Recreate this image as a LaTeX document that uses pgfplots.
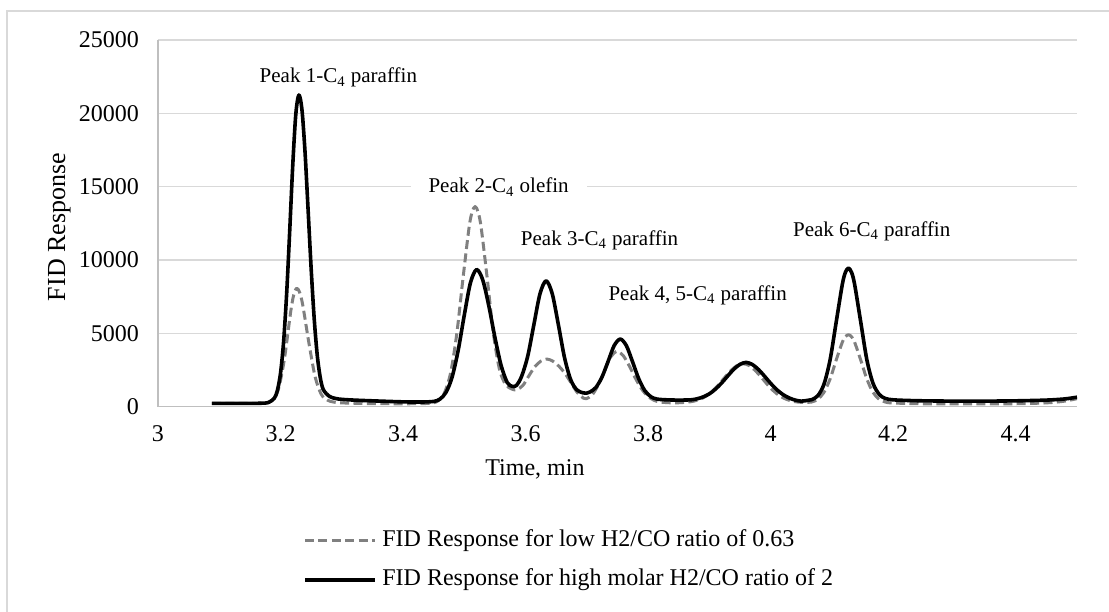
\documentclass[border=0pt]{standalone}
\usepackage{fontspec}
\setmainfont{Liberation Serif}
\usepackage{pgfplots}
\pgfplotsset{compat=1.18}
\definecolor{gridc}{HTML}{D9D9D9}
\definecolor{axc}{HTML}{BFBFBF}
\definecolor{lowc}{HTML}{808080}
\begin{document}
\begin{tikzpicture}
\begin{axis}[
  scale only axis, width=459.5pt, height=183.35pt,
  xmin=3, xmax=4.5, ymin=0, ymax=25000,
  scaled y ticks=false, scaled x ticks=false,
  xtick={3,3.2,3.4,3.6,3.8,4,4.2,4.4},
  xticklabels={3,3.2,3.4,3.6,3.8,4,4.2,4.4},
  ytick={0,5000,10000,15000,20000,25000},
  yticklabels={0,5000,10000,15000,20000,25000},
  major tick length=0pt,
  ymajorgrids, grid style={gridc, line width=0.75pt},
  axis x line*=bottom, axis y line*=left,
  axis line style={axc, line width=0.75pt, -},
  tick label style={font=\fontsize{12}{14}\selectfont},
  xticklabel style={yshift=-6pt},
  yticklabel style={xshift=-6pt},
  xlabel={Time, min}, ylabel={FID Response},
  xlabel style={font=\fontsize{12}{14}\selectfont, at={(axis description cs:0.4102,0)}, anchor=base, yshift=-34.6pt},
  ylabel style={font=\fontsize{13}{15}\selectfont, at={(axis description cs:-0.1072,0.49)}, anchor=center},
]
\coordinate (O) at (rel axis cs:0,0);
\addplot[lowc, line width=1.5pt, dash pattern=on 4.5pt off 2.2pt, smooth, tension=0.5, line join=round] coordinates {
(3.088,230)(3.10,230)(3.12,225)(3.14,225)(3.16,230)(3.1764,270)(3.1864,420)(3.1964,1170)
(3.2064,3270)(3.2164,6420)(3.2214,7600)(3.2264,8080)(3.2314,7770)(3.2364,6900)(3.2464,4330)
(3.2564,2050)(3.2664,850)(3.2764,450)(3.2864,320)(3.30,260)(3.35,210)(3.40,200)(3.43,210)
(3.4476,250)(3.4576,410)(3.4676,950)(3.4776,2310)(3.4876,4950)(3.4976,8670)(3.5076,12180)
(3.5126,13260)(3.5176,13645)(3.5226,13260)(3.5276,12180)(3.5376,8670)(3.5476,4950)(3.5576,2500)
(3.5676,1500)(3.5776,1200)(3.5856,1160)(3.5956,1450)(3.6046,2050)(3.6146,2700)(3.6246,3100)
(3.6346,3250)(3.6446,3100)(3.6546,2750)(3.6646,2250)(3.6746,1600)(3.6846,950)(3.6946,580)
(3.699,540)(3.709,825)(3.719,1517)(3.729,2485)(3.739,3395)(3.749,3770)(3.759,3500)(3.769,2800)
(3.779,1960)(3.789,1230)(3.799,730)(3.809,450)(3.819,320)(3.84,260)(3.855,280)(3.865,314)
(3.875,383)(3.885,514)(3.895,733)(3.905,1064)(3.915,1496)(3.925,1993)(3.935,2460)(3.945,2805)
(3.955,2930)(3.965,2805)(3.975,2460)(3.985,1993)(3.995,1496)(4.005,1064)(4.015,733)(4.025,514)
(4.035,383)(4.045,314)(4.055,290)(4.067,320)(4.077,510)(4.087,980)(4.097,1890)(4.107,3180)
(4.117,4400)(4.122,4770)(4.127,4905)(4.132,4770)(4.137,4400)(4.147,3180)(4.157,1890)(4.167,980)
(4.177,510)(4.187,320)(4.20,250)(4.25,200)(4.30,190)(4.35,190)(4.40,200)(4.45,260)(4.48,380)(4.50,550)
};
\addplot[black, line width=1.8pt, smooth, tension=0.5, line join=round] coordinates {
(3.088,230)(3.10,230)(3.12,225)(3.14,225)(3.16,230)(3.17,240)(3.18,282)(3.19,583)(3.195,1130)
(3.20,2290)(3.205,4420)(3.21,7720)(3.215,12000)(3.22,16500)(3.225,19970)(3.23,21250)(3.235,20230)
(3.24,17350)(3.245,13420)(3.25,9400)(3.255,5980)(3.26,3480)(3.265,1950)(3.27,1150)(3.28,700)
(3.29,560)(3.30,500)(3.32,450)(3.35,400)(3.40,330)(3.43,320)(3.45,360)(3.46,513)(3.47,970)
(3.48,2010)(3.49,3850)(3.50,6260)(3.51,8450)(3.52,9350)(3.53,8650)(3.54,6870)(3.55,4710)
(3.56,2820)(3.57,1650)(3.578,1390)(3.585,1450)(3.5935,2070)(3.6035,3450)(3.6135,5590)
(3.6235,7700)(3.6335,8580)(3.6435,7700)(3.6535,5590)(3.6635,3350)(3.6735,1850)(3.6835,1150)
(3.6935,950)(3.70,930)(3.705,1000)(3.7145,1300)(3.7245,2000)(3.7345,3070)(3.7445,4160)
(3.7545,4610)(3.7645,4160)(3.7745,3070)(3.7845,1920)(3.7945,1100)(3.8045,680)(3.8145,520)
(3.83,470)(3.85,450)(3.87,470)(3.88,540)(3.89,670)(3.90,880)(3.91,1200)(3.92,1620)(3.93,2100)
(3.94,2560)(3.95,2890)(3.96,3020)(3.97,2880)(3.98,2540)(3.99,2080)(4.00,1590)(4.01,1160)
(4.02,830)(4.03,600)(4.04,450)(4.05,380)(4.06,430)(4.067,480)(4.077,750)(4.087,1530)(4.097,3200)
(4.107,5780)(4.117,8350)(4.122,9160)(4.127,9450)(4.132,9160)(4.137,8350)(4.147,5780)(4.157,3200)
(4.167,1600)(4.177,850)(4.187,560)(4.20,470)(4.22,430)(4.25,400)(4.30,380)(4.35,380)(4.40,400)
(4.45,450)(4.48,530)(4.50,650)
};
\begin{scope}[every node/.style={anchor=base, font=\fontsize{10.5}{12}\selectfont, fill=white, inner xsep=1pt, inner ysep=1pt}]
\node at (axis cs:3.2944,22087) {Peak 1-C\textsubscript{4} paraffin};
\node[inner xsep=9pt] at (axis cs:3.556,14588) {Peak 2-C\textsubscript{4} olefin};
\node at (axis cs:3.7208,10976) {Peak 3-C\textsubscript{4} paraffin};
\node at (axis cs:3.8808,7274) {Peak 4, 5-C\textsubscript{4} paraffin};
\node at (axis cs:4.1649,11589) {Peak 6-C\textsubscript{4} paraffin};
\end{scope}
\end{axis}
% legend
\draw[lowc, line width=1.5pt, dash pattern=on 4.5pt off 2.2pt] ([shift={(73.5pt,-67pt)}]O) -- ([shift={(108.5pt,-67pt)}]O);
\node[anchor=west, inner sep=0pt, font=\fontsize{12}{14}\selectfont] at ([shift={(112pt,-67pt)}]O) {FID Response for low H2/CO ratio of 0.63};
\draw[black, line width=1.8pt] ([shift={(73.5pt,-86.5pt)}]O) -- ([shift={(108.5pt,-86.5pt)}]O);
\node[anchor=west, inner sep=0pt, font=\fontsize{12}{14}\selectfont] at ([shift={(112pt,-86.5pt)}]O) {FID Response for high molar H2/CO ratio of 2};
\draw[gridc, line width=0.75pt] ([shift={(-75.5pt,-110pt)}]O) rectangle ([shift={(477pt,197.85pt)}]O);
\pgfresetboundingbox
\path[use as bounding box] ([shift={(-79pt,-102.15pt)}]O) rectangle ([shift={(475.5pt,203.35pt)}]O);
\end{tikzpicture}
\end{document}
